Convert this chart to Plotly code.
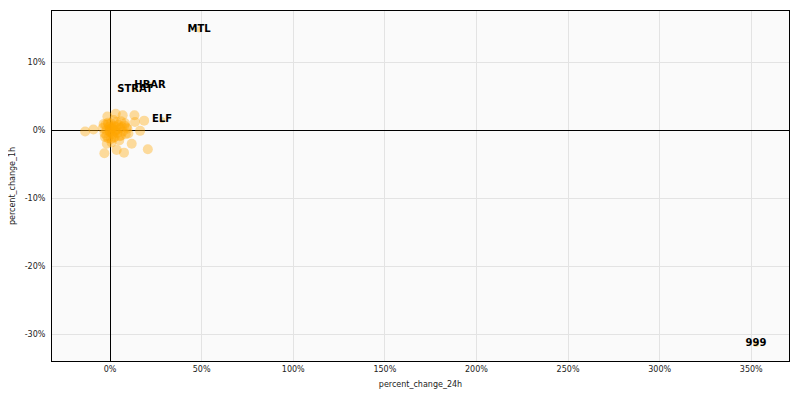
import plotly.graph_objects as go

# Unlabelled coins: percent_change_24h (x) and percent_change_1h (y)
cluster_24h = [-13.6, -9.1, -4.0, -3.0, -2.5, -2.0, -1.5, -1.8, -3.1, -1.0,
               -0.5, 0.0, 0.5, 1.0, 1.5, 2.0, 2.5, 3.0, 3.1, 3.5,
               4.0, 4.5, 5.0, 3.6, 5.5, 6.0, 6.4, 6.9, 7.0, 7.6,
               8.2, 8.5, 9.0, 10.0, 11.8, 13.3, 13.6, 16.4, 18.6, 20.6,
               -2.0, 0.0, 1.0, 2.0, -1.0, 0.5, 4.0, 6.0, -0.3, 1.2,
               -3.5, -2.8, 2.8, 5.2, 7.8, 9.5, 0.8, 3.2, -1.2, 1.8]
cluster_1h = [-0.2, 0.1, 0.3, -0.5, 0.8, 0.0, 2.0, -2.0, -3.4, -1.2,
              0.5, -0.3, 1.0, 0.2, -0.6, 0.6, -1.0, 0.0, 2.4, 1.2,
              -0.4, 0.8, -1.5, -2.9, 0.3, -0.8, 0.5, 2.2, -0.2, -3.3,
              1.0, -0.6, 0.4, -0.5, -2.0, 2.2, 1.2, -0.1, 1.4, -2.8,
              -0.8, 0.2, -0.5, 1.5, 0.9, -1.3, 0.1, 1.3, -0.1, 0.4,
              0.9, -1.0, -0.2, -0.9, 0.7, 0.2, -1.8, 0.5, 1.1, -1.1]

# Labelled outliers
label_names = ["MTL", "HBAR", "STRAT", "ELF", "999"]
label_24h = [48.6, 21.8, 13.6, 28.4, 352.6]
label_1h = [14.8, 6.6, 6.0, 1.5, -31.4]

x_ticks = [0, 50, 100, 150, 200, 250, 300, 350]
x_tick_labels = ["0%", "50%", "100%", "150%", "200%", "250%", "300%", "350%"]
y_ticks = [-30, -20, -10, 0, 10]
y_tick_labels = ["-30%", "-20%", "-10%", "0%", "10%"]

fig = go.Figure()
fig.add_trace(go.Scatter(
    x=cluster_24h, y=cluster_1h, mode="markers",
    marker=dict(color="#FFA500", size=10, opacity=0.38, line=dict(width=0)),
    showlegend=False, hoverinfo="x+y"))
fig.add_trace(go.Scatter(
    x=label_24h, y=label_1h, mode="markers+text", text=label_names,
    textposition="middle center",
    textfont=dict(family="DejaVu Sans", size=10, color="black", weight="bold"),
    marker=dict(color="#FFA500", size=6, opacity=0.38, line=dict(width=0)),
    showlegend=False))

axis_common = dict(
    showgrid=True, gridcolor="#e3e3e3", gridwidth=1.3,
    zeroline=True, zerolinecolor="black", zerolinewidth=1,
    showline=True, linecolor="black", linewidth=1, mirror=True,
    ticks="", automargin=False,
    tickfont=dict(family="DejaVu Sans", size=8, color="#222"),
)

fig.update_layout(
    width=792, height=392,
    margin=dict(l=44, r=11, t=3, b=39),
    paper_bgcolor="white", plot_bgcolor="#fafafa",
    font=dict(family="DejaVu Sans", size=8, color="#222"),
    xaxis=dict(axis_common, range=[-31.7, 370.6], tickvals=x_ticks,
               ticktext=x_tick_labels,
               title=dict(text="percent_change_24h", font=dict(size=8), standoff=8)),
    yaxis=dict(axis_common, range=[-33.9, 17.5], tickvals=y_ticks,
               ticktext=y_tick_labels, ticklabelstandoff=4,
               title=dict(text="percent_change_1h", font=dict(size=8), standoff=8)),
)

fig.write_html("out.html")
